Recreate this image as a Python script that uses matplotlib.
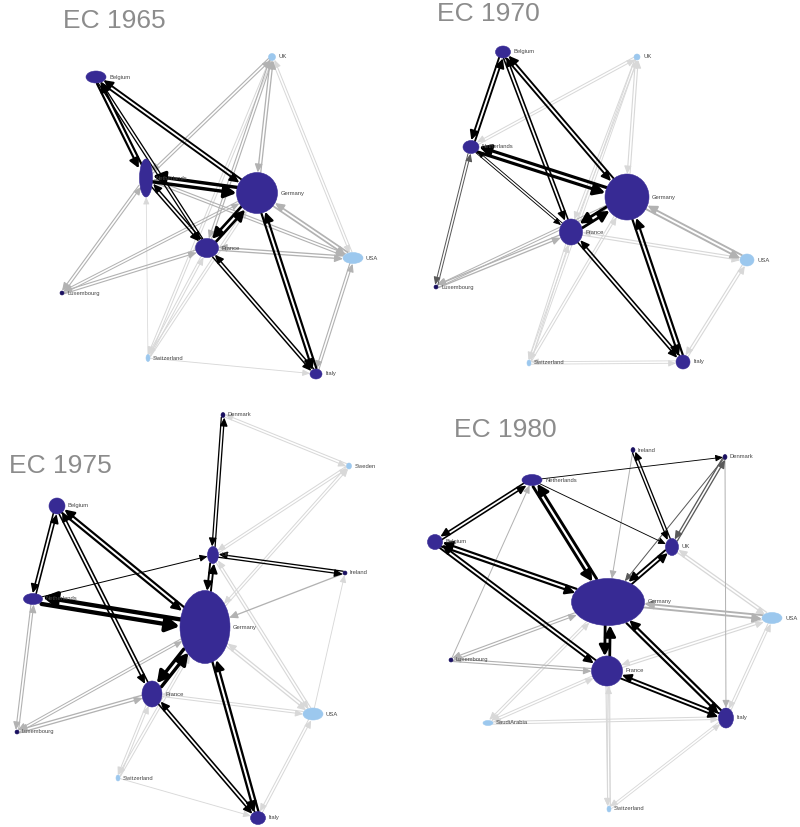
import numpy as np
import matplotlib
matplotlib.use("Agg")
import matplotlib.pyplot as plt
from matplotlib.patches import Ellipse, FancyArrowPatch

plt.rcParams['font.family'] = ['Liberation Sans', 'DejaVu Sans']

# ---------------------------------------------------------------------------
# Trade networks of the European Community, four snapshots.
# Each node: name -> (layout x, layout y, width, height, EC member?)
# Each link: (country A, country B, trade weight, intensity tier 0..3, two-way?)
# ---------------------------------------------------------------------------
titles = ["EC 1965", "EC 1970", "EC 1975", "EC 1980"]
title_pos = [(114, 21), (488, 14), (60, 466), (505, 430)]

nodes_1965 = {
    "UK": (272, 57, 7, 7, False),
    "Belgium": (96, 77, 20, 12, True),
    "Netherlands": (146, 178, 13, 38, True),
    "Germany": (257, 193, 41, 41, True),
    "France": (207, 248, 23, 19, True),
    "USA": (353, 258, 20, 11, False),
    "Luxembourg": (62, 293, 4, 4, True),
    "Switzerland": (148, 358, 4, 7, False),
    "Italy": (316, 374, 12, 10, True),
}
links_1965 = [
    ("Belgium", "Netherlands", 3.0, 0, True),
    ("Belgium", "Germany", 2.5, 0, True),
    ("Belgium", "France", 1.5, 0, True),
    ("Netherlands", "Germany", 5.0, 0, True),
    ("Netherlands", "France", 1.8, 0, True),
    ("France", "Germany", 3.8, 0, True),
    ("Germany", "Italy", 3.0, 0, True),
    ("France", "Italy", 1.8, 0, True),
    ("UK", "Germany", 1.5, 2, True),
    ("UK", "Netherlands", 1.2, 2, True),
    ("UK", "France", 1.2, 2, True),
    ("UK", "Switzerland", 1.0, 3, True),
    ("UK", "USA", 1.0, 3, True),
    ("USA", "Germany", 2.2, 2, True),
    ("USA", "France", 1.5, 2, True),
    ("USA", "Netherlands", 1.2, 2, True),
    ("USA", "Italy", 1.2, 2, True),
    ("Luxembourg", "Netherlands", 1.2, 2, True),
    ("Luxembourg", "France", 1.2, 2, True),
    ("Luxembourg", "Germany", 1.0, 2, True),
    ("Switzerland", "Germany", 1.0, 3, True),
    ("Switzerland", "France", 1.0, 3, True),
    ("Switzerland", "Italy", 0.8, 3, False),
    ("Switzerland", "Netherlands", 0.6, 3, False),
]

nodes_1970 = {
    "Belgium": (503, 52, 15, 12, True),
    "UK": (637, 57, 6, 6, False),
    "Netherlands": (471, 147, 16, 13, True),
    "Germany": (627, 197, 44, 46, True),
    "France": (571, 232, 23, 26, True),
    "USA": (747, 260, 14, 12, False),
    "Luxembourg": (436, 287, 4, 4, True),
    "Switzerland": (529, 363, 4, 6, False),
    "Italy": (683, 362, 14, 14, True),
}
links_1970 = [
    ("Belgium", "Netherlands", 2.5, 0, True),
    ("Belgium", "Germany", 2.5, 0, True),
    ("Belgium", "France", 2.0, 0, True),
    ("Netherlands", "Germany", 4.6, 0, True),
    ("Netherlands", "France", 0.8, 0, True),
    ("France", "Germany", 4.0, 0, True),
    ("Germany", "Italy", 3.0, 0, True),
    ("France", "Italy", 2.0, 0, True),
    ("Luxembourg", "Netherlands", 1.0, 1, True),
    ("UK", "Netherlands", 1.0, 3, True),
    ("UK", "Germany", 1.2, 3, True),
    ("UK", "France", 1.0, 3, True),
    ("UK", "Switzerland", 0.8, 3, True),
    ("USA", "Germany", 2.5, 2, True),
    ("USA", "France", 1.2, 3, True),
    ("USA", "Italy", 1.2, 3, True),
    ("Luxembourg", "France", 1.5, 2, True),
    ("Luxembourg", "Germany", 1.0, 2, True),
    ("Switzerland", "Germany", 1.0, 3, True),
    ("Switzerland", "France", 1.0, 3, True),
    ("Switzerland", "Italy", 0.8, 3, True),
]

nodes_1975 = {
    "Denmark": (223, 415, 4, 5, True),
    "Sweden": (349, 466, 5, 6, False),
    "Belgium": (57, 506, 16, 16, True),
    "UK": (213, 555, 11, 17, True),
    "Ireland": (345, 573, 4, 4, True),
    "Netherlands": (33, 599, 19, 11, True),
    "Germany": (205, 627, 50, 73, True),
    "France": (152, 694, 20, 26, True),
    "USA": (313, 714, 20, 12, False),
    "Luxembourg": (17, 732, 4, 4, True),
    "Switzerland": (118, 778, 4, 6, False),
    "Italy": (258, 818, 15, 13, True),
}
links_1975 = [
    ("Belgium", "Netherlands", 2.0, 0, True),
    ("Belgium", "Germany", 3.0, 0, True),
    ("Belgium", "France", 2.0, 0, True),
    ("Netherlands", "Germany", 6.5, 0, True),
    ("Netherlands", "UK", 1.0, 0, False),
    ("UK", "Germany", 2.5, 0, True),
    ("UK", "Denmark", 1.5, 0, True),
    ("UK", "Ireland", 1.5, 0, True),
    ("France", "Germany", 5.0, 0, True),
    ("Germany", "Italy", 3.2, 0, True),
    ("France", "Italy", 2.0, 0, True),
    ("Ireland", "Germany", 1.5, 2, False),
    ("Luxembourg", "Netherlands", 1.2, 2, True),
    ("Luxembourg", "France", 1.5, 2, True),
    ("Luxembourg", "Germany", 1.0, 2, True),
    ("Sweden", "Denmark", 1.0, 3, True),
    ("Sweden", "UK", 1.0, 3, True),
    ("Sweden", "Germany", 1.0, 3, True),
    ("USA", "Germany", 1.5, 3, True),
    ("USA", "UK", 1.2, 3, True),
    ("USA", "France", 1.0, 3, True),
    ("USA", "Italy", 1.0, 3, True),
    ("USA", "Ireland", 0.8, 3, False),
    ("Switzerland", "Germany", 1.0, 3, True),
    ("Switzerland", "France", 1.0, 3, True),
    ("Switzerland", "Italy", 0.8, 3, False),
]

nodes_1980 = {
    "Ireland": (633, 450, 4, 5, True),
    "Denmark": (725, 457, 4, 5, True),
    "Netherlands": (532, 480, 20, 11, True),
    "Belgium": (435, 542, 15, 15, True),
    "UK": (672, 547, 13, 17, True),
    "Germany": (608, 602, 73, 47, True),
    "USA": (772, 618, 20, 11, False),
    "Luxembourg": (451, 660, 4, 4, True),
    "France": (607, 671, 31, 30, True),
    "SaudiArabia": (488, 723, 10, 5, False),
    "Italy": (726, 718, 15, 20, True),
    "Switzerland": (609, 809, 4, 6, False),
}
links_1980 = [
    ("Netherlands", "Belgium", 2.0, 0, True),
    ("Netherlands", "Germany", 4.2, 0, True),
    ("Netherlands", "UK", 0.8, 0, False),
    ("Netherlands", "Denmark", 0.8, 0, False),
    ("Belgium", "Germany", 3.0, 0, True),
    ("Belgium", "France", 2.5, 0, True),
    ("UK", "Germany", 2.5, 0, True),
    ("UK", "Ireland", 1.5, 0, True),
    ("UK", "Denmark", 1.5, 1, True),
    ("Germany", "France", 4.0, 0, True),
    ("Germany", "Italy", 3.0, 0, True),
    ("France", "Italy", 2.5, 0, True),
    ("Denmark", "Germany", 1.0, 1, False),
    ("Ireland", "Germany", 1.0, 2, False),
    ("Denmark", "Italy", 1.0, 2, False),
    ("Luxembourg", "Netherlands", 1.0, 2, False),
    ("Luxembourg", "Germany", 1.2, 2, True),
    ("Luxembourg", "France", 1.2, 2, True),
    ("USA", "Germany", 2.5, 2, True),
    ("USA", "UK", 1.5, 3, True),
    ("USA", "France", 1.2, 3, True),
    ("USA", "Italy", 1.0, 3, True),
    ("SaudiArabia", "Italy", 1.0, 3, True),
    ("SaudiArabia", "Germany", 1.0, 3, True),
    ("SaudiArabia", "France", 1.0, 3, True),
    ("Switzerland", "Germany", 1.0, 3, True),
    ("Switzerland", "France", 1.0, 3, True),
    ("Switzerland", "Italy", 0.8, 3, True),
]

panels = [
    (nodes_1965, links_1965),
    (nodes_1970, links_1970),
    (nodes_1975, links_1975),
    (nodes_1980, links_1980),
]

# ---------------------------------------------------------------------------
# drawing
# ---------------------------------------------------------------------------
W, H = 800, 827
fig = plt.figure(figsize=(W / 100, H / 100), dpi=100)
ax = fig.add_axes([0, 0, 1, 1])
ax.set_xlim(0, W)
ax.set_ylim(H, 0)
ax.axis("off")

EC_COLOR = "#372a94"
OTHER_COLOR = "#9cc8ee"
TIER_COLORS = ["#000000", "#5a5a5a", "#b2b2b2", "#d8d8d8"]
PX = 0.72  # one pixel in points


def boundary(node, ux, uy):
    """Distance from ellipse centre to its edge along unit direction."""
    a = max(node[2] / 2.0, 2.0)
    b = max(node[3] / 2.0, 2.0)
    return 1.0 / np.sqrt((ux / a) ** 2 + (uy / b) ** 2)


def draw_arrow(n1, n2, weight, tier, offset):
    x1, y1 = n1[0], n1[1]
    x2, y2 = n2[0], n2[1]
    dx, dy = x2 - x1, y2 - y1
    L = np.hypot(dx, dy)
    ux, uy = dx / L, dy / L
    px, py = -uy, ux
    r1 = boundary(n1, ux, uy)
    r2 = boundary(n2, -ux, -uy)
    sx = x1 + ux * r1 + px * offset
    sy = y1 + uy * r1 + py * offset
    ex = x2 - ux * r2 + px * offset
    ey = y2 - uy * r2 + py * offset
    lw = (0.4 + 0.6 * weight) * PX
    hl = 4.0 + 0.6 * weight
    hw = 1.6 + 0.45 * weight
    arr = FancyArrowPatch((sx, sy), (ex, ey),
                          arrowstyle=f"-|>,head_length={hl:.2f},head_width={hw:.2f}",
                          mutation_scale=1, lw=lw,
                          color=TIER_COLORS[tier], shrinkA=0, shrinkB=0,
                          zorder=2 if tier == 0 else 1)
    ax.add_patch(arr)


for (nodes, links), title, tpos in zip(panels, titles, title_pos):
    # links underneath
    for a, b, w, tier, both in sorted(links, key=lambda l: -l[3]):
        na, nb = nodes[a], nodes[b]
        gap = 0.9 + 0.4 * w
        if both:
            draw_arrow(na, nb, w, tier, gap)
            draw_arrow(nb, na, w, tier, gap)
        else:
            draw_arrow(na, nb, w, tier, 0)
    # nodes and labels
    for name, (x, y, w, h, member) in nodes.items():
        color = EC_COLOR if member else OTHER_COLOR
        if member and w <= 5:
            color = "#1a1060"
        ax.add_patch(Ellipse((x, y), w, h, facecolor=color,
                             edgecolor=color, lw=0.4, zorder=5))
        ax.text(x + w / 2 + 3, y, name, fontsize=4.2, color="#444444",
                ha="left", va="center", zorder=6)
    ax.text(tpos[0], tpos[1], title, fontsize=19, color="#8c8c8c",
            ha="center", va="center", zorder=7)

fig.savefig("out.png", dpi=100)
